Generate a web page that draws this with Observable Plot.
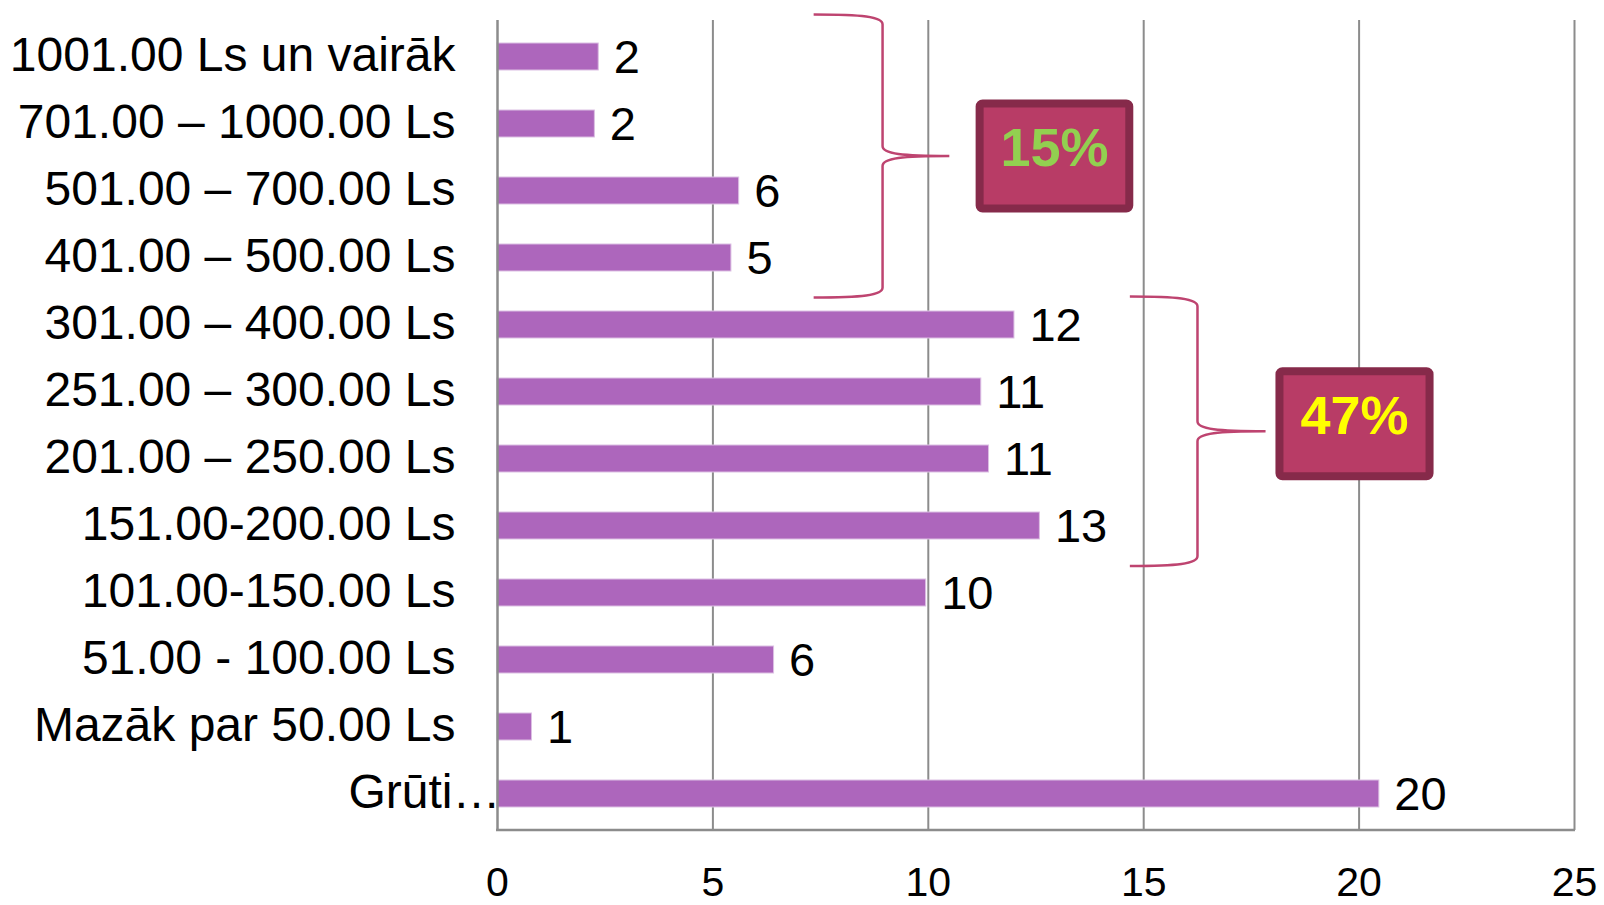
<!DOCTYPE html>
<html>
<head>
<meta charset="utf-8">
<script src="https://cdn.jsdelivr.net/npm/d3@7"></script>
<script src="https://cdn.jsdelivr.net/npm/@observablehq/plot@0.6"></script>
<style>
  html, body { margin: 0; padding: 0; background: #fff; }
  #chart svg { display: block; }
</style>
</head>
<body>
<div id="chart"></div>
<script>
// ---- data ----
const categories = [
  "1001.00 Ls un vairāk",
  "701.00 – 1000.00 Ls",
  "501.00 – 700.00 Ls",
  "401.00 – 500.00 Ls",
  "301.00 – 400.00 Ls",
  "251.00 – 300.00 Ls",
  "201.00 – 250.00 Ls",
  "151.00-200.00 Ls",
  "101.00-150.00 Ls",
  "51.00 - 100.00 Ls",
  "Mazāk par 50.00 Ls",
  "Grūti…"
];
const shares = [2.35, 2.26, 5.61, 5.43, 12.0, 11.23, 11.41, 12.59, 9.95, 6.42, 0.80, 20.47];
const valueLabels = [2, 2, 6, 5, 12, 11, 11, 13, 10, 6, 1, 20];
const xTicks = [0, 5, 10, 15, 20, 25];

const groupLabels = ["15%", "47%"];
const groupFirst = ["1001.00 Ls un vairāk", "301.00 – 400.00 Ls"];
const groupLast = ["401.00 – 500.00 Ls", "151.00-200.00 Ls"];

const data = categories.map((c, i) => ({category: c, share: shares[i], label: valueLabels[i]}));

// ---- annotation layout (x in data units, y offsets in px) ----
const braceLayout = [
  {left: 7.35, stem: 8.95, tip: 10.5, topOff: -42, botOff: 40, box: [11.11, 14.77], boxDy: 0, color: "#92D050"},
  {left: 14.69, stem: 16.26, tip: 17.84, topOff: -28, botOff: 40.5, box: [18.07, 21.74], boxDy: -7.5, color: "#FFFF00"}
];

const annotations = (index, scales, values, dimensions) => {
  const {x, y} = scales;
  const g = d3.create("svg:g");
  const center = c => y(c) + y.bandwidth() / 2;
  // bottom axis line
  const by = dimensions.height - dimensions.marginBottom;
  g.append("line")
    .attr("x1", x(0) - 1).attr("x2", x(25) + 1)
    .attr("y1", by).attr("y2", by)
    .attr("stroke", "#8c8c8c").attr("stroke-width", 2.5);

  braceLayout.forEach((b, i) => {
    const top = center(groupFirst[i]) + b.topOff;
    const bottom = center(groupLast[i]) + b.botOff;
    const mid = (top + bottom) / 2;
    const L = x(b.left), S = x(b.stem), T = x(b.tip);
    const w = S - L, w2 = T - S, h = 10;
    const p = d3.path();
    p.moveTo(L, top);
    p.bezierCurveTo(S - w * 0.3, top, S, top + 2, S, top + h);
    p.lineTo(S, mid - h);
    p.bezierCurveTo(S, mid - 2, S + w2 * 0.3, mid, T, mid);
    p.moveTo(T, mid);
    p.bezierCurveTo(S + w2 * 0.3, mid, S, mid + 2, S, mid + h);
    p.lineTo(S, bottom - h);
    p.bezierCurveTo(S, bottom - 2, S - w * 0.3, bottom, L, bottom);
    g.append("path").attr("d", p.toString())
      .attr("fill", "none").attr("stroke", "#be4470").attr("stroke-width", 2.5);

    const bx1 = x(b.box[0]), bx2 = x(b.box[1]);
    const bh = 113;
    const bcy = mid + b.boxDy;
    const sw = 8;
    g.append("rect")
      .attr("x", bx1 + sw / 2).attr("y", bcy - bh / 2 + sw / 2)
      .attr("width", bx2 - bx1 - sw).attr("height", bh - sw)
      .attr("rx", 3)
      .attr("fill", "#B83C66").attr("stroke", "#862A4A").attr("stroke-width", sw);
    g.append("text")
      .attr("x", (bx1 + bx2) / 2).attr("y", bcy + 10)
      .attr("text-anchor", "middle")
      .attr("font-family", "'Liberation Sans', Arial, sans-serif")
      .attr("font-weight", "bold").attr("font-size", 54)
      .attr("fill", b.color)
      .text(groupLabels[i]);
  });
  return g.node();
};

const chart = Plot.plot({
  width: 1604,
  height: 905,
  marginLeft: 497,
  marginRight: 30,
  marginTop: 20,
  marginBottom: 75,
  style: {fontFamily: "'Liberation Sans', Arial, sans-serif", background: "#fff", color: "#000"},
  x: {domain: [0, 25], label: null, axis: null},
  y: {domain: categories, paddingInner: 0.6, paddingOuter: 0.3, label: null, axis: null},
  marks: [
    Plot.gridX(xTicks.slice(1), {stroke: "#8c8c8c", strokeOpacity: 1, strokeWidth: 2}),
    Plot.barX(data, {x: "share", y: "category", fill: "#AD66BC", stroke: "#dcbfe3", strokeWidth: 1}),
    Plot.ruleX([0], {stroke: "#8c8c8c", strokeWidth: 2.5}),
    Plot.text(data, {x: "share", y: "category", text: "label", textAnchor: "start", dx: 15, dy: 1, fontSize: 47, fill: "#000"}),
    Plot.axisX(xTicks, {tickSize: 0, tickPadding: 36, fontSize: 41, fill: "#000", label: null}),
    Plot.axisY(categories.slice(0, -1), {tickSize: 0, tickPadding: 42, fontSize: 48, dy: -1, fill: "#000", label: null}),
    Plot.axisY(categories.slice(-1), {tickSize: 0, tickPadding: -3, fontSize: 48, dy: -1, fill: "#000", label: null}),
    annotations
  ]
});
document.getElementById("chart").appendChild(chart);
</script>
</body>
</html>
